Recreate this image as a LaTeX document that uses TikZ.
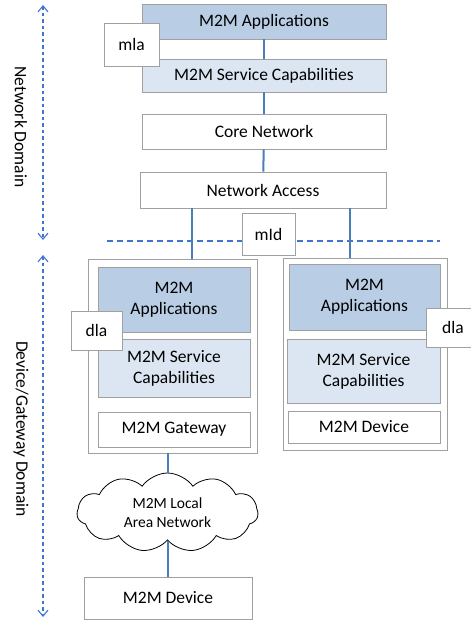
\documentclass[tikz,border=0pt]{standalone}
\usepackage{fontspec}
\setmainfont{Carlito}
\usepackage{xcolor}
\usetikzlibrary{arrows.meta}
\usetikzlibrary{shapes.symbols}

\definecolor{appblue}{HTML}{B9CDE5}
\definecolor{scblue}{HTML}{DCE6F2}
\definecolor{linkblue}{HTML}{4A7EBB}
\definecolor{dashblue}{HTML}{3F74D0}
\definecolor{boxgray}{HTML}{A0A0A0}

\tikzset{
  layer/.style={draw=boxgray, line width=0.9pt, fill=white, align=center,
    font=\fontsize{17.5}{21}\selectfont},
  iface/.style={layer, minimum width=#1, minimum height=40},
  link/.style={draw=linkblue, line width=2pt},
  domarrow/.style={draw=dashblue, line width=1.1pt, dash pattern=on 3.5pt off 3pt,
    {Straight Barb[length=6pt,width=10pt]}-{Straight Barb[length=6pt,width=10pt]}}
}

\begin{document}
\begin{tikzpicture}[x=1pt, y=-1pt]
\useasboundingbox (0,0) rectangle (471,621);

%network domain
\node [layer, fill=appblue, minimum width=244, minimum height=35] (app) at (264,21.5) {M2M Applications};
\node [layer, fill=scblue, minimum width=244, minimum height=33] (sc) at (264,75.5) {M2M Service Capabilities};
\node [layer, minimum width=244, minimum height=35] (core) at (264,131.5) {Core Network};
\node [layer, minimum width=246, minimum height=36] (na) at (263,190) {Network Access};
\node [iface=55, minimum height=43] (mla) at (131.5,44.5) {mla};

\draw [link] (app) -- (sc);
\draw [link] (sc) -- (core);
\draw [link] (core) -- (na);

%split
\coordinate (sl) at (107,241);
\coordinate (sr) at (440,241);
\draw [dashblue, line width=1.1pt, dash pattern=on 6pt off 4pt] (sl) -- (sr);

%gateway
\node [layer, minimum width=169, minimum height=194] (gw) at (172.5,356) {};
\node [layer, fill=appblue, minimum width=152, minimum height=65] (gapp) at (174,299.5) {M2M\\Applications};
\node [layer, fill=scblue, minimum width=152, minimum height=58] (gsc) at (174,368) {M2M Service\\Capabilities};
\node [layer, minimum width=152, minimum height=35] (gwy) at (174,429.5) {M2M Gateway};
\node [iface=51, minimum height=39] (dla1) at (96.5,330.5) {dla};

%device
\node [layer, minimum width=164, minimum height=192] (dev) at (365,354) {};
\node [layer, fill=appblue, minimum width=151, minimum height=66] (dapp) at (364.5,297) {M2M\\Applications};
\node [layer, fill=scblue, minimum width=153, minimum height=64] (dsc) at (363.5,371) {M2M Service\\Capabilities};
\node [layer, minimum width=152, minimum height=32] (ddev) at (364,427) {M2M Device};
\node [iface=54, minimum height=39] (dla2) at (453,327.5) {dla};

\draw [link] (na.south -| 192,0) -- (gw.north -| 192,0);
\draw [link] (na.south -| 350,0) -- (dev.north -| 350,0);
\node [iface=53, minimum height=42] (mld) at (268.5,234) {mId};

%local network
\node [cloud, draw, line width=0.8pt, fill=white, cloud puffs=11, cloud puff arc=110, aspect=2.3,
  minimum width=181, minimum height=79, align=center, font=\fontsize{15.5}{19}\selectfont]
  (lan) at (167.5,512.5) {M2M Local\\Area Network};
\node [layer, minimum width=168, minimum height=42] (bot) at (168,598) {M2M Device};

\draw [link] (gw.south -| lan.north) -- (lan.north);
\draw [link] (lan.south) -- (bot.north -| lan.south);

%domains
\coordinate (nt) at (43,5);
\coordinate (nb) at (43,240);
\coordinate (dt) at (43,255);
\coordinate (db) at (43,617);
\draw [domarrow] (nt) -- (nb);
\draw [domarrow] (dt) -- (db);
\node [rotate=-90, font=\fontsize{17.5}{21}\selectfont] (ndom) at (21,127) {Network Domain};
\node [rotate=-90, font=\fontsize{17.5}{21}\selectfont] (ddom) at (21,429) {Device/Gateway Domain};

\end{tikzpicture}
\end{document}
